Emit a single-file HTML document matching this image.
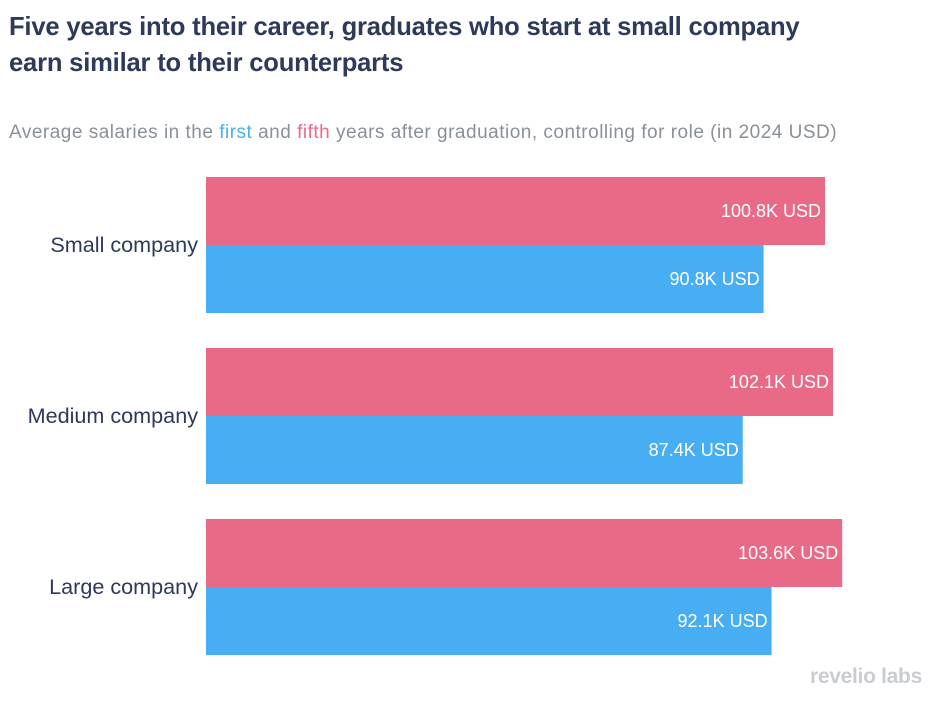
<!DOCTYPE html>
<html><head><meta charset="utf-8"><style>
body{margin:0;width:942px;height:705px;background:#fff;font-family:"Liberation Sans",sans-serif;position:relative;overflow:hidden}
.title{position:absolute;left:9px;top:9px;font-size:25.6px;font-weight:bold;color:#2d3a5a;line-height:36px;letter-spacing:-0.2px}
.sub{position:absolute;left:9px;top:122px;font-size:19px;letter-spacing:0.5px;color:#8a9099}
.logo{position:absolute;left:810px;top:665px;font-size:21px;font-weight:bold;color:#c9ccd1;letter-spacing:-0.3px}
svg{position:absolute;left:0;top:0}
</style></head><body>
<div class="title">Five years into their career, graduates who start at small company<br>earn similar to their counterparts</div>
<div class="sub">Average salaries in the <span style="color:#48aef3">first</span> and <span style="color:#e86a86">fifth</span> years after graduation, controlling for role (in 2024 USD)</div>
<svg id="chart" width="942" height="705"></svg>
<div class="logo">revelio labs</div>
<script>
const categories=["Small company","Medium company","Large company"];
const fifthYear=[100.8,102.1,103.6];
const firstYear=[90.8,87.4,92.1];
const x0=206, pxPerK=6.141, top0=177, step=171, barH=68;
const xScale=v=>v*pxPerK;
const svg=document.getElementById('chart');
const NS="http://www.w3.org/2000/svg";
function bar(val,y,color,name){
  const r=document.createElementNS(NS,'rect');
  r.setAttribute('x',x0);r.setAttribute('y',y);r.setAttribute('width',xScale(val));r.setAttribute('height',barH);r.setAttribute('fill',color);
  
  
  svg.appendChild(r);
  const t=document.createElementNS(NS,'text');
  t.setAttribute('x',x0+xScale(val)-4);t.setAttribute('y',y+barH/2+6);t.setAttribute('text-anchor','end');
  t.setAttribute('fill','#fff');t.setAttribute('font-size','18');t.setAttribute('font-family','Liberation Sans, sans-serif');
  t.textContent=val.toFixed(1)+'K USD';
  
  
  svg.appendChild(t);
}
categories.forEach((c,i)=>{
  const y=top0+i*step;
  bar(fifthYear[i],y,'#e86a86','bar-fifth-year-'+i);
  bar(firstYear[i],y+barH,'#48aef3','bar-first-year-'+i);
  const t=document.createElementNS(NS,'text');
  t.setAttribute('x',198);t.setAttribute('y',y+barH+7);t.setAttribute('text-anchor','end');
  t.setAttribute('fill','#2d3a5a');t.setAttribute('font-size','21.6');t.setAttribute('font-family','Liberation Sans, sans-serif');
  t.textContent=c;
  
  
  svg.appendChild(t);
});
</script>
</body></html>
